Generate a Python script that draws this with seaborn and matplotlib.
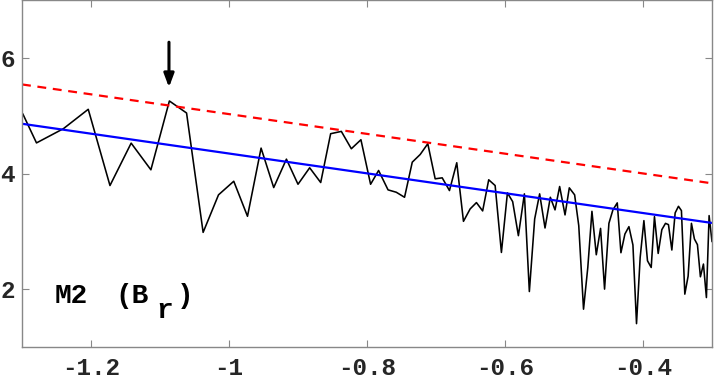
import matplotlib
matplotlib.use("Agg")
import matplotlib.pyplot as plt
import seaborn as sns
import pandas as pd

# ---- data ----
x_vals = [-1.299, -1.279, -1.240, -1.204, -1.1725, -1.1418, -1.1132, -1.0864, -1.0615, -1.0375,
          -1.0152, -0.9931, -0.9732, -0.9535, -0.9352, -0.9168, -0.9000, -0.8831, -0.8671, -0.8527,
          -0.8372, -0.8227, -0.8088, -0.7948, -0.7832, -0.7695, -0.7576, -0.7456, -0.7344, -0.7229,
          -0.7119, -0.7012, -0.6910, -0.6805, -0.6699, -0.6602, -0.6505, -0.6414, -0.6324, -0.6236,
          -0.6143, -0.6052, -0.5965, -0.5889, -0.5806, -0.5719, -0.5647, -0.5570, -0.5498, -0.5420,
          -0.5343, -0.5275, -0.5208, -0.5130, -0.5068, -0.4991, -0.4931, -0.4862, -0.4800, -0.4740,
          -0.4677, -0.4615, -0.4557, -0.4494, -0.4436, -0.4373, -0.4320, -0.4262, -0.4204, -0.4146,
          -0.4094, -0.4041, -0.3987, -0.3935, -0.3881, -0.3834, -0.3780, -0.3727, -0.3674, -0.3631,
          -0.3582, -0.3534, -0.3486, -0.3443, -0.3394, -0.3346, -0.3298, -0.3255, -0.3211, -0.3168,
          -0.3124, -0.3081, -0.3042, -0.3000]
y_vals = [5.035, 4.529, 4.775, 5.110, 3.792, 4.525, 4.064, 5.254, 5.046, 2.982,
          3.631, 3.866, 3.260, 4.439, 3.757, 4.248, 3.814, 4.099, 3.844, 4.688,
          4.728, 4.428, 4.584, 3.814, 4.052, 3.717, 3.676, 3.589, 4.196, 4.329,
          4.515, 3.908, 3.925, 3.705, 4.186, 3.173, 3.388, 3.497, 3.353, 3.891,
          3.792, 2.635, 3.665, 3.514, 2.925, 3.648, 1.959, 3.214, 3.648, 3.058,
          3.589, 3.371, 3.775, 3.284, 3.752, 3.631, 3.098, 1.654, 2.375, 3.346,
          2.595, 3.051, 2.001, 3.138, 3.371, 3.492, 2.630, 2.954, 3.081, 2.764,
          1.404, 2.549, 3.185, 2.491, 2.375, 3.254, 2.618, 3.029, 3.138, 3.116,
          2.677, 3.319, 3.433, 3.358, 1.914, 2.226, 3.138, 2.868, 2.769, 2.214,
          2.434, 1.855, 3.272, 2.821]

fit_x = [-1.30, -0.30]
fit_y = [4.86, 3.145]        # blue solid line
upper_y = [5.54, 3.83]       # red dashed line

arrow_x = -1.087
arrow_y_start = 6.27
arrow_y_end = 5.49

# label pieces: "M2  (B_r)"
label_parts = ["M2", "(B", "r", ")"]
label_x = [-1.2522, -1.1652, -1.1058, -1.0754]
label_y = [1.768, 1.768, 1.508, 1.768]

x_ticks = [-1.2, -1.0, -0.8, -0.6, -0.4]
x_ticklabels = ["-1.2", "-1", "-0.8", "-0.6", "-0.4"]
y_ticks = [2, 4, 6]
y_ticklabels = ["2", "4", "6"]

# ---- plot ----
sns.set_style("white")
plt.rcParams["font.family"] = ["Liberation Mono", "DejaVu Sans Mono"]

fig = plt.figure(figsize=(7.14, 3.83), dpi=100)
ax = fig.add_axes([22 / 714, 1 - 347 / 383, 690 / 714, 347 / 383])

df = pd.DataFrame({"x": x_vals, "y": y_vals})
sns.lineplot(data=df, x="x", y="y", sort=False, estimator=None, color="black",
             linewidth=1.15, ax=ax)
sns.lineplot(x=fit_x, y=fit_y, color="#0000ff", linewidth=1.6, ax=ax)
sns.lineplot(x=fit_x, y=upper_y, color="#ff0000", linewidth=1.6, ax=ax,
             linestyle=(0, (4, 3)))

ax.annotate("", xy=(arrow_x, arrow_y_end), xytext=(arrow_x, arrow_y_start),
            arrowprops=dict(arrowstyle="-|>,head_length=0.8,head_width=0.3",
                            color="black", lw=2.2, shrinkA=0, shrinkB=0))

for txt, tx, ty in zip(label_parts, label_x, label_y):
    ax.text(tx, ty, txt, fontsize=20, fontweight="bold", color="black",
            va="baseline", ha="left")

ax.set_xlim(-1.30, -0.30)
ax.set_ylim(1, 7)
ax.set_xticks(x_ticks)
ax.set_xticklabels(x_ticklabels)
ax.set_yticks(y_ticks)
ax.set_yticklabels(y_ticklabels)
ax.set_xlabel("")
ax.set_ylabel("")

ax.tick_params(direction="in", length=5, width=0.8, color="#888888",
               top=True, right=True, bottom=True, left=True,
               labelsize=17.5, labelcolor="#262626")
ax.tick_params(axis="x", pad=7)
ax.tick_params(axis="y", pad=5)
for lab in ax.get_xticklabels() + ax.get_yticklabels():
    lab.set_fontweight("bold")
for s in ax.spines.values():
    s.set_visible(True)
    s.set_color("#888888")
    s.set_linewidth(1.0)

fig.savefig("out.png", dpi=100)
